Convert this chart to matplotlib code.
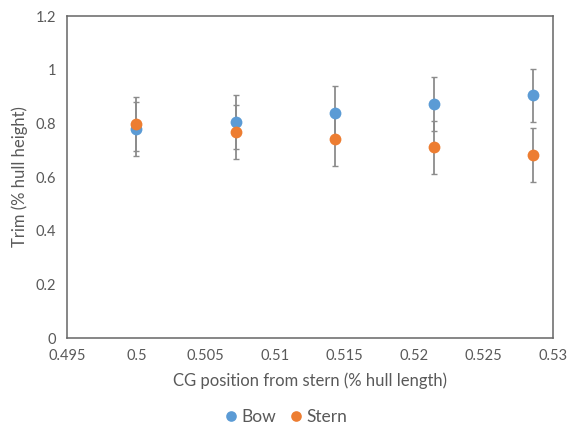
import matplotlib
matplotlib.use('Agg')
import matplotlib.pyplot as plt

# data
cg_pos = [0.5, 0.50714, 0.51429, 0.52143, 0.52857]
bow_trim = [0.778, 0.806, 0.840, 0.871, 0.904]
stern_trim = [0.797, 0.767, 0.740, 0.710, 0.681]
trim_err = [0.1, 0.1, 0.1, 0.1, 0.1]

x_ticks = [0.495, 0.5, 0.505, 0.51, 0.515, 0.52, 0.525, 0.53]
y_ticks = [0, 0.2, 0.4, 0.6, 0.8, 1, 1.2]

plt.rcParams['font.family'] = ['Lato', 'DejaVu Sans']
txt = '#595959'

fig = plt.figure(figsize=(5.71, 4.29), dpi=100)
ax = fig.add_axes([0.1173, 0.2121, 0.8512, 0.7506])

series = [('Bow', bow_trim, '#5B9BD5'), ('Stern', stern_trim, '#ED7D31')]
for name, vals, col in series:
    _, caps, bars = ax.errorbar(cg_pos, vals, yerr=trim_err, fmt='none',
                                ecolor='#8c8c8c', elinewidth=1.3,
                                capsize=2.2, capthick=1, zorder=2)
    for c in caps:
        c.set_color('#404040')
for name, vals, col in series:
    ax.plot(cg_pos, vals, 'o', color=col, markersize=8.5,
            markeredgewidth=0, label=name, zorder=3)

ax.set_xlim(0.495, 0.53)
ax.set_ylim(0, 1.2)
ax.set_xticks(x_ticks)
ax.set_xticklabels(['0.495', '0.5', '0.505', '0.51', '0.515', '0.52', '0.525', '0.53'])
ax.set_yticks(y_ticks)
ax.set_yticklabels(['0', '0.2', '0.4', '0.6', '0.8', '1', '1.2'])
ax.tick_params(length=0, labelsize=10.5, colors=txt, pad=8)
for s in ax.spines.values():
    s.set_color('#666666')
    s.set_linewidth(1.1)

ax.set_xlabel('CG position from stern (% hull length)', fontsize=12, color=txt, labelpad=7)
ax.set_ylabel('Trim (% hull height)', fontsize=12, color=txt, labelpad=5)

fig.legend(loc='lower center', bbox_to_anchor=(0.5, -0.028), ncol=2, frameon=False,
           fontsize=12.5, labelcolor=txt, handletextpad=0.15, columnspacing=0.7,
           handlelength=0.9, markerscale=0.9)

fig.savefig('out.png', dpi=100)
